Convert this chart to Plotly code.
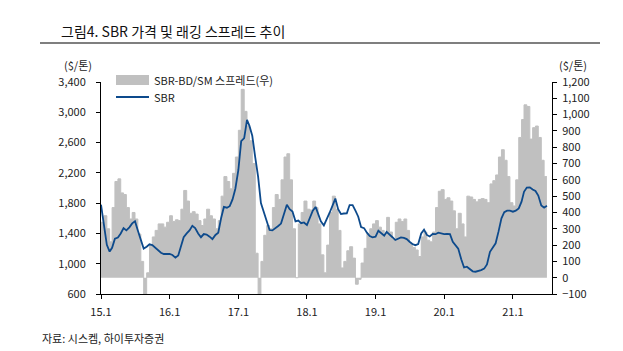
import plotly.graph_objects as go

# ---- data (semi-monthly readings: 1st and 16th of each month) ----
years = [2015, 2016, 2017, 2018, 2019, 2020, 2021]

sbr_2015 = [1780, 1520, 1250, 1160, 1210, 1330, 1345, 1400, 1470, 1440, 1480, 1533,
            1560, 1440, 1330, 1200, 1225, 1256, 1245, 1210, 1170, 1145, 1128, 1130]
sbr_2016 = [1128, 1115, 1080, 1110, 1220, 1350, 1400, 1440, 1500, 1470, 1400, 1350,
            1392, 1385, 1357, 1325, 1380, 1410, 1600, 1750, 1740, 1760, 1850, 1990]
sbr_2017 = [2238, 2620, 2660, 2900, 2820, 2690, 2400, 2150, 1800, 1690, 1550, 1445,
            1440, 1465, 1498, 1530, 1670, 1780, 1720, 1690, 1560, 1570, 1535, 1545]
sbr_2018 = [1510, 1600, 1700, 1750, 1665, 1560, 1505, 1600, 1670, 1760, 1860, 1720,
            1656, 1663, 1665, 1775, 1775, 1700, 1621, 1485, 1470, 1410, 1365, 1348]
sbr_2019 = [1357, 1436, 1395, 1370, 1420, 1380, 1350, 1313, 1335, 1348, 1340, 1325,
            1290, 1260, 1245, 1260, 1400, 1450, 1380, 1360, 1392, 1390, 1410, 1400]
sbr_2020 = [1392, 1395, 1390, 1290, 1250, 1200, 1060, 950, 960, 930, 900, 894,
            900, 915, 935, 990, 1158, 1215, 1270, 1420, 1600, 1680, 1700, 1700]
sbr_2021 = [1687, 1700, 1731, 1820, 1950, 2005, 2009, 1980, 1960, 1900, 1770, 1740, 1765]

spr_2015 = [340, 380, 300, 220, 430, 590, 606, 520, 510, 430, 360, 400,
            360, 268, 100, -100, 30, 200, 250, 290, 330, 330, 310, 340]
spr_2016 = [380, 345, 355, 350, 420, 535, 470, 395, 405, 390, 350, 320,
            360, 420, 380, 360, 300, 350, 500, 620, 590, 545, 640, 740]
spr_2017 = [904, 1155, 1020, 930, 840, 700, 150, -100, 100, 260, 320, 300,
            430, 510, 480, 600, 740, 760, 600, 300, 0, 330, 400, 470]
spr_2018 = [420, 415, 470, 430, 330, 140, 30, 200, 400, 500, 420, 290,
            60, 100, 165, 190, 120, -40, -10, 90, 180, 270, 300, 330]
spr_2019 = [350, 310, 290, 260, 370, 280, 240, 340, 360, 345, 360, 290,
            210, 185, 170, 130, 250, 280, 230, 220, 280, 430, 530, 540]
spr_2020 = [480, 490, 470, 410, 300, 395, 330, 250, 500, 495, 480, 465,
            480, 485, 480, 460, 575, 595, 630, 740, 785, 720, 620, 460]
spr_2021 = [440, 600, 860, 970, 1060, 1050, 850, 920, 930, 860, 720, 620, 620]

tick_vals = ["2015-01-01", "2016-01-01", "2017-01-01", "2018-01-01",
             "2019-01-01", "2020-01-01", "2021-01-01"]
tick_text = ["15.1", "16.1", "17.1", "18.1", "19.1", "20.1", "21.1"]

sbr = sbr_2015 + sbr_2016 + sbr_2017 + sbr_2018 + sbr_2019 + sbr_2020 + sbr_2021
spread = spr_2015 + spr_2016 + spr_2017 + spr_2018 + spr_2019 + spr_2020 + spr_2021

dates = []
for y in years:
    for k in range(24):
        m = k // 2 + 1
        d = "01" if k % 2 == 0 else "16"
        dates.append(f"{y}-{m:02d}-{d}")
dates = dates[:len(sbr)]

FONT = "Noto Sans CJK KR, Noto Sans, sans-serif"
GRAY = "#C0C0C0"
BLUE = "#0D4A8C"
TXT = "#222222"

# plot area in pixels
L, R, T, B = 101, 552, 82, 294
W, H = R - L, B - T
def px(xp):
    return (xp - L) / W
def py(yp):
    return (B - yp) / H

fig = go.Figure()
fig.add_trace(go.Scatter(x=dates, y=spread, yaxis="y", mode="lines",
                         line=dict(color=GRAY, width=1, shape="hv"),
                         fill="tozeroy", fillcolor=GRAY,
                         name="SBR-BD/SM 스프레드(우)", showlegend=False))
fig.add_trace(go.Scatter(x=dates, y=sbr, yaxis="y2", mode="lines",
                         line=dict(color=BLUE, width=1.8), name="SBR", showlegend=False))

fig.update_layout(
    width=623, height=351,
    margin=dict(l=L, r=623 - R, t=T, b=351 - B),
    paper_bgcolor="white", plot_bgcolor="white",
    font=dict(family=FONT, size=11, color=TXT),
    xaxis=dict(type="date", range=["2015-01-01", "2021-07-28"],
               tickvals=tick_vals, ticktext=tick_text,
               showline=True, linecolor="#000", linewidth=1,
               ticks="outside", ticklen=4, tickcolor="#000",
               ticklabelstandoff=4,
               showgrid=False, zeroline=False, tickfont=dict(size=11)),
    yaxis=dict(side="right", range=[-100, 1200], dtick=100, tick0=0,
               showline=True, linecolor="#000", linewidth=1,
               ticks="outside", ticklen=4, tickcolor="#000",
               ticklabelstandoff=3,
               tickformat=",", showgrid=False, zeroline=False,
               tickfont=dict(size=11)),
    yaxis2=dict(side="left", overlaying="y", range=[600, 3400], dtick=400, tick0=600,
                showline=True, linecolor="#000", linewidth=1,
                ticks="outside", ticklen=4, tickcolor="#000",
                ticklabelstandoff=8,
                tickformat=",", showgrid=False, zeroline=False,
                tickfont=dict(size=11)),
)

shapes = [
    dict(type="line", xref="paper", yref="paper", x0=px(40), x1=px(600), y0=py(43), y1=py(43),
         line=dict(color="#000", width=1.2)),
    dict(type="rect", xref="paper", yref="paper", x0=px(116), x1=px(149), y0=py(85), y1=py(75),
         fillcolor=GRAY, line=dict(width=0)),
    dict(type="line", xref="paper", yref="paper", x0=px(116), x1=px(149), y0=py(97), y1=py(97),
         line=dict(color=BLUE, width=2)),
]
annotations = [
    dict(text="그림4. SBR 가격 및 래깅 스프레드 추이", xref="paper", yref="paper",
         x=px(59), y=py(31), xanchor="left", yanchor="middle", showarrow=False,
         font=dict(size=14, color="#111")),
    dict(text="($/톤)", xref="paper", yref="paper", x=px(78), y=py(65),
         xanchor="center", yanchor="middle", showarrow=False, font=dict(size=11)),
    dict(text="($/톤)", xref="paper", yref="paper", x=px(573), y=py(65),
         xanchor="center", yanchor="middle", showarrow=False, font=dict(size=11)),
    dict(text="SBR-BD/SM 스프레드(우)", xref="paper", yref="paper", x=px(152), y=py(80),
         xanchor="left", yanchor="middle", showarrow=False, font=dict(size=11)),
    dict(text="SBR", xref="paper", yref="paper", x=px(152), y=py(97),
         xanchor="left", yanchor="middle", showarrow=False, font=dict(size=11)),
    dict(text="자료: 시스켐, 하이투자증권", xref="paper", yref="paper", x=px(40), y=py(338),
         xanchor="left", yanchor="middle", showarrow=False, font=dict(size=11)),
]
fig.update_layout(shapes=shapes, annotations=annotations)

fig.write_html("out.html")
